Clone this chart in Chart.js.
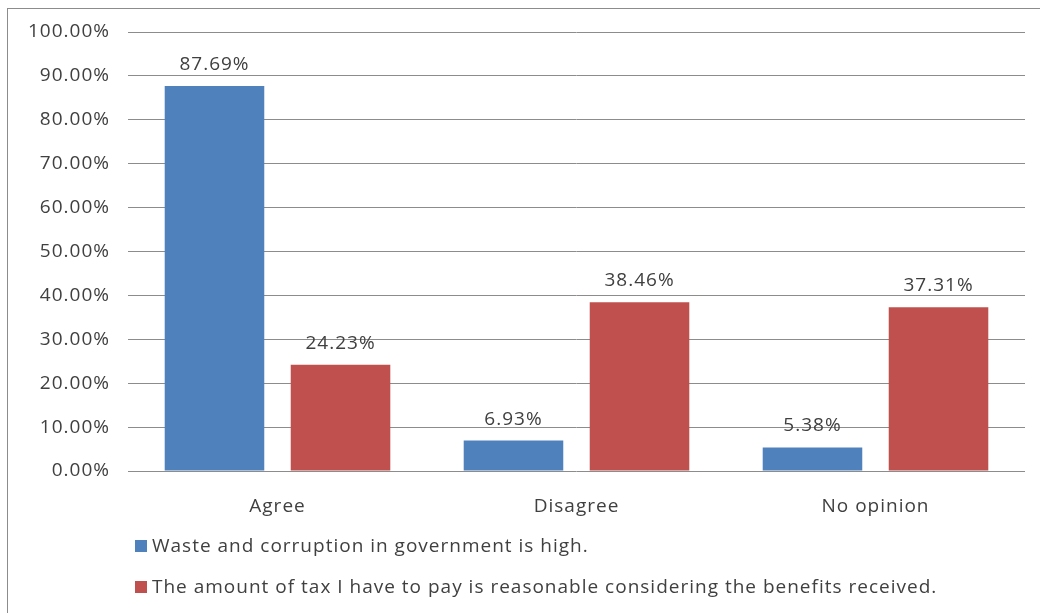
<!DOCTYPE html>
<html>
<head>
<meta charset="utf-8">
<script src="https://cdn.jsdelivr.net/npm/chart.js@4.4.0/dist/chart.umd.min.js"></script>
<style>
  body { margin: 0; background: #fff; }
  #wrap { position: relative; width: 1040px; height: 613px; overflow: hidden; }
  #frame { position: absolute; left: 7px; top: 8px; width: 1060px; height: 640px; border: 1px solid #8c8c8c; box-sizing: border-box; }
  #chart { position: absolute; left: 0; top: 0; }
  #legend { position: absolute; left: 135px; top: 532px; font-family: "Open Sans", Lato, sans-serif; font-size: 19px; letter-spacing: 1px; color: #404040; }
  #legend div { height: 41px; line-height: 26px; white-space: nowrap; }
  #legend span.box { display: inline-block; width: 12px; height: 12px; margin-right: 5px; vertical-align: 0px; }
</style>
</head>
<body>
<div id="wrap">
  <div id="frame"></div>
  <canvas id="chart" width="1040" height="613"></canvas>
  <div id="legend"></div>
</div>
<script>
// 데이터
var categories = ['Agree', 'Disagree', 'No opinion'];
var seriesNames = ['Waste and corruption in government is high.',
                   'The amount of tax I have to pay is reasonable considering the benefits received.'];
var wasteValues = [87.69, 6.93, 5.38];
var taxValues = [24.23, 38.46, 37.31];
var seriesColors = ['#4F81BD', '#C0504D'];

var textColor = '#404040';
var fontFamily = '"Open Sans", Lato, sans-serif';

// 글자 간격 (캔버스 전체)
var spacing = {
  id: 'spacing',
  beforeDraw: function(chart){ chart.ctx.letterSpacing = '1px'; }
};

// 막대 위 값 표시
var valueLabels = {
  id: 'valueLabels',
  afterDatasetsDraw: function(chart){
    var ctx = chart.ctx;
    ctx.save();
    ctx.letterSpacing = '1px';
    ctx.font = '19px ' + fontFamily;
    ctx.fillStyle = textColor;
    ctx.textAlign = 'center';
    ctx.textBaseline = 'alphabetic';
    chart.data.datasets.forEach(function(ds, i){
      chart.getDatasetMeta(i).data.forEach(function(bar, j){
        ctx.fillText(ds.data[j].toFixed(2) + '%', bar.x, bar.y - 16);
      });
    });
    ctx.restore();
  }
};

var datasets = [
  { label: seriesNames[0], data: wasteValues, backgroundColor: seriesColors[0] },
  { label: seriesNames[1], data: taxValues, backgroundColor: seriesColors[1] }
];

new Chart(document.getElementById('chart'), {
  type: 'bar',
  data: { labels: categories, datasets: datasets },
  options: {
    responsive: false,
    animation: false,
    categoryPercentage: 0.843,
    barPercentage: 0.79,
    layout: { padding: { left: 0, right: 15, top: 32, bottom: 82 } },
    plugins: {
      legend: { display: false },
      tooltip: { enabled: false }
    },
    scales: {
      x: {
        grid: { display: false },
        border: { display: false },
        ticks: { color: textColor, font: { family: fontFamily, size: 19 }, padding: 16 },
        afterFit: function(scale){ scale.height = 60; }
      },
      y: {
        min: 0,
        max: 100,
        ticks: {
          stepSize: 10,
          padding: 18,
          color: textColor,
          font: { family: fontFamily, size: 19 },
          callback: function(v){ return v.toFixed(2) + '%'; }
        },
        grid: { color: '#8c8c8c', drawTicks: false },
        border: { display: false },
        afterFit: function(scale){ scale.width = 128; }
      }
    }
  },
  plugins: [spacing, valueLabels]
});

// 범례
var legend = document.getElementById('legend');
seriesNames.forEach(function(name, i){
  var row = document.createElement('div');
  row.innerHTML = '<span class="box" style="background:' + seriesColors[i] + '"></span>' + name;
  legend.appendChild(row);
});
</script>
</body>
</html>
